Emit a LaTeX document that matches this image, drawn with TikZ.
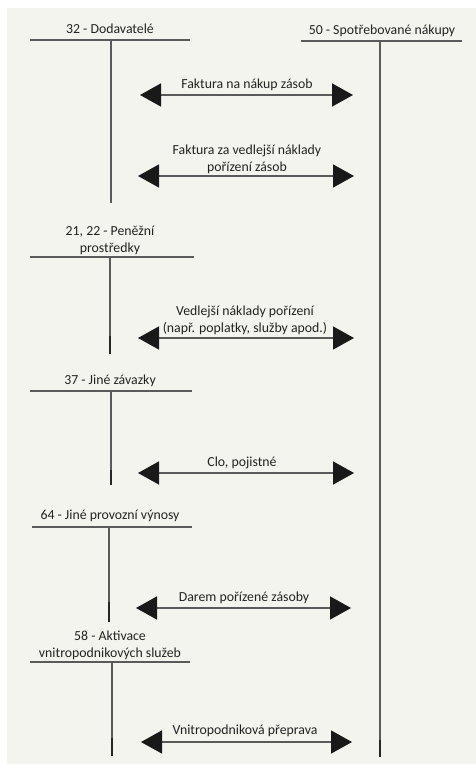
\documentclass[tikz,border=0pt]{standalone}
\usepackage{fontspec}
\setmainfont{Carlito}
\usetikzlibrary{arrows.meta}
\definecolor{bg}{HTML}{F4F4EF}
\definecolor{ln}{HTML}{5A5A5A}
\definecolor{tx}{HTML}{222222}
\begin{document}
\begin{tikzpicture}[x=1pt,y=-1pt,
  lbl/.style={font=\fontsize{13.8}{17}\selectfont,text=tx,inner sep=0pt,align=center},
  hline/.style={draw=ln,line width=1.3pt},
  vline/.style={draw=ln,line width=1.2pt},
  vend/.style={draw=black!85,line width=2pt},
  dblarrow/.style={draw=ln,line width=1.5pt,{Triangle[length=21pt,width=23pt,color=black!90]}-{Triangle[length=21pt,width=23pt,color=black!90]}}]
\useasboundingbox (0,0) rectangle (476,773);
\fill[bg] (7,8) rectangle (476,764);
% headings
\node[lbl] (h32) at (110,29) {32 - Dodavatelé};
\node[lbl] (h50) at (382,31) {50 - Spotřebované nákupy};
\node[lbl] (h21) at (110,240) {21, 22 - Peněžní\\prostředky};
\node[lbl] (h37) at (110,381) {37 - Jiné závazky};
\node[lbl] (h64) at (110,516) {64 - Jiné provozní výnosy};
\node[lbl] (h58) at (110,645) {58 - Aktivace\\vnitropodnikových služeb};
% horizontal lines
\draw[hline] (30,40) -- (190,40);
\draw[hline] (301,41) -- (462,41);
\draw[hline] (30,257) -- (194,257);
\draw[hline] (30,391) -- (192,391);
\draw[hline] (32,527) -- (192,527);
\draw[hline] (30,662) -- (190,662);
% vertical lines
\coordinate (r0) at (380,41);
\coordinate (r1) at (380,740);
\coordinate (r2) at (380,757);
\draw[vline] (r0) -- (r1);
\draw[vend] (r1) -- (r2);
\coordinate (a0) at (111,40);
\coordinate (a1) at (111,203);
\draw[vline] (a0) -- (a1);
\coordinate (b0) at (110,257);
\coordinate (b1) at (110,336);
\coordinate (b2) at (110,354);
\draw[vline] (b0) -- (b1);
\draw[vend] (b1) -- (b2);
\coordinate (c0) at (111,391);
\coordinate (c1) at (111,470);
\coordinate (c2) at (111,485);
\draw[vline] (c0) -- (c1);
\draw[vend] (c1) -- (c2);
\coordinate (d0) at (109,527);
\coordinate (d1) at (109,602);
\coordinate (d2) at (109,622);
\draw[vline] (d0) -- (d1);
\draw[vend] (d1) -- (d2);
\coordinate (e0) at (112,662);
\coordinate (e1) at (112,738);
\coordinate (e2) at (112,756);
\draw[vline] (e0) -- (e1);
\draw[vend] (e1) -- (e2);
% arrows
\coordinate (l1) at (140,95); \coordinate (m1) at (353,95);
\draw[dblarrow] (l1) -- (m1);
\node[lbl] (t1) at (247,85) {Faktura na nákup zásob};
\coordinate (l2) at (138,176); \coordinate (m2) at (354,176);
\draw[dblarrow] (l2) -- (m2);
\node[lbl] (t2) at (247,159) {Faktura za vedlejší náklady\\pořízení zásob};
\coordinate (l3) at (138,338); \coordinate (m3) at (354,338);
\draw[dblarrow] (l3) -- (m3);
\node[lbl] (t3) at (245,320) {Vedlejší náklady pořízení\\(např. poplatky, služby apod.)};
\coordinate (l4) at (138,473); \coordinate (m4) at (354,473);
\draw[dblarrow] (l4) -- (m4);
\node[lbl] (t4) at (242,463) {Clo, pojistné};
\coordinate (l5) at (136,608); \coordinate (m5) at (351,608);
\draw[dblarrow] (l5) -- (m5);
\node[lbl] (t5) at (244,598) {Darem pořízené zásoby};
\coordinate (l6) at (141,742); \coordinate (m6) at (352,742);
\draw[dblarrow] (l6) -- (m6);
\node[lbl] (t6) at (245,731) {Vnitropodniková přeprava};
\end{tikzpicture}
\end{document}
